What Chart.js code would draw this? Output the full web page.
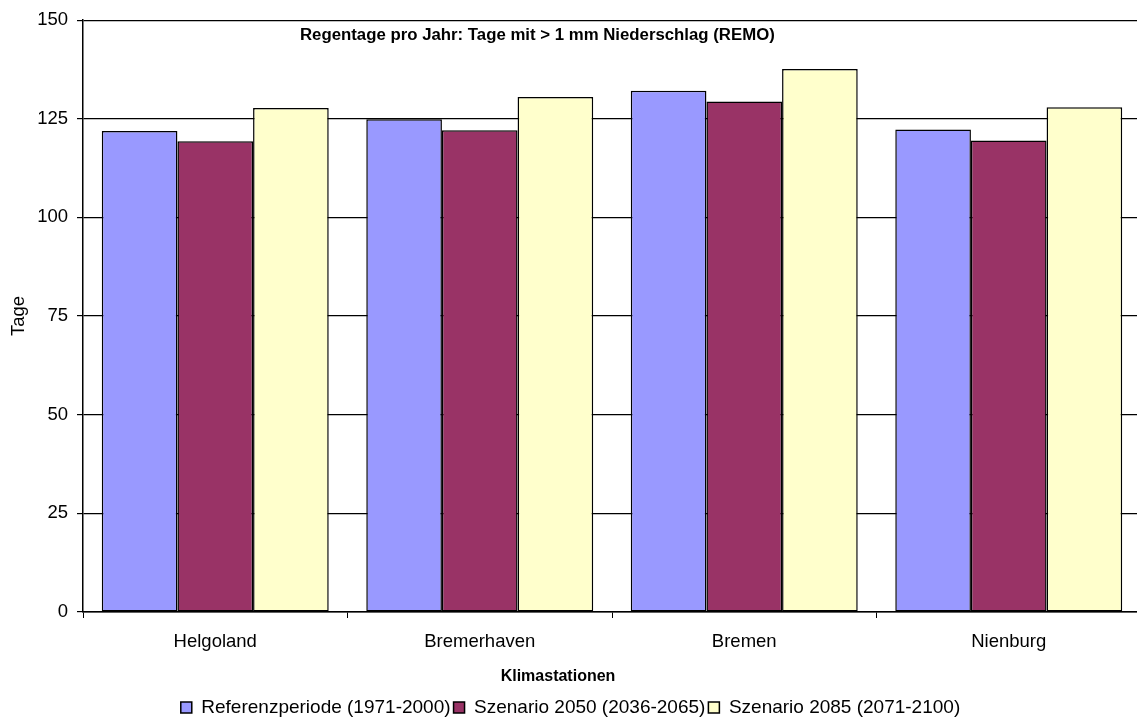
<!DOCTYPE html>
<html>
<head>
<meta charset="utf-8">
<script src="https://cdn.jsdelivr.net/npm/chart.js@4/dist/chart.umd.min.js"></script>
<style>
  html, body { margin: 0; padding: 0; background: #fff; overflow: hidden; }
  #wrap { position: relative; width: 1141px; height: 720px; }
</style>
</head>
<body>
<div id="wrap"><canvas id="chart"></canvas></div>
<script>
(function(){
  'use strict';

  const stations = ['Helgoland', 'Bremerhaven', 'Bremen', 'Nienburg'];
  const referenz = [121.9, 124.9, 132.1, 122.3];   // 1971-2000
  const sz2050   = [119.3, 122.1, 129.4, 119.5];   // 2036-2065
  const sz2085   = [127.7, 130.5, 137.6, 127.9];   // 2071-2100
  const seriesNames = ['Referenzperiode (1971-2000)', 'Szenario 2050 (2036-2065)', 'Szenario 2085 (2071-2100)'];
  const yTicks = [0, 25, 50, 75, 100, 125, 150];

  const chartTitle = 'Regentage pro Jahr: Tage mit > 1 mm Niederschlag (REMO)';
  const xTitle = 'Klimastationen';
  const yTitle = 'Tage';

  const FONT = 'Arial, "Liberation Sans", sans-serif';
  Chart.defaults.font.family = FONT;
  Chart.defaults.color = '#000';

  // chart title sits inside the plot, x-axis title under the labels
  const textPlugin = {
    id: 'texts',
    afterDraw(chart){
      const { ctx, chartArea } = chart;
      ctx.save();
      ctx.fillStyle = '#000';
      ctx.textBaseline = 'middle';
      ctx.font = 'bold 16.8px ' + FONT;
      ctx.textAlign = 'left';
      ctx.fillText(chartTitle, chartArea.left + 217, chartArea.top + 15);
      ctx.font = 'bold 16px ' + FONT;
      ctx.textAlign = 'center';
      ctx.fillText(xTitle, 558, 677);
      ctx.restore();
    }
  };

  const ds = (label, data, color) => ({
    label, data, backgroundColor: color, borderColor: '#000', borderWidth: 1.5,
    borderSkipped: false, barPercentage: 1, categoryPercentage: 0.858
  });

  new Chart(document.getElementById('chart'), {
    type: 'bar',
    data: {
      labels: stations,
      datasets: [
        ds(seriesNames[0], referenz, '#9999FF'),
        ds(seriesNames[1], sz2050, '#993366'),
        ds(seriesNames[2], sz2085, '#FFFFCC')
      ]
    },
    options: {
      responsive: true,
      maintainAspectRatio: false,
      animation: false,
      layout: { padding: { top: 20, left: 0, right: 0, bottom: -7 } },
      plugins: {
        title: { display: false },
        tooltip: { enabled: false },
        legend: {
          position: 'bottom',
          labels: { boxWidth: 11, boxHeight: 11, padding: 3, font: { size: 19 }, color: '#000' }
        }
      },
      scales: {
        x: {
          grid: { offset: true, drawOnChartArea: false, color: '#000', tickLength: 6, lineWidth: 1 },
          border: { color: '#000', width: 1.5 },
          ticks: { font: { size: 18.5 }, padding: 13, maxRotation: 0 },
          afterFit(scale){ scale.height = 83; }
        },
        y: {
          min: 0, max: 150,
          afterBuildTicks(scale){ scale.ticks = yTicks.map(v => ({ value: v })); },
          grid: { color: '#000', tickLength: 6, lineWidth: 1.2 },
          border: { color: '#000', width: 1.5 },
          ticks: { font: { size: 18.5 }, padding: 9 },
          title: { display: true, text: yTitle, font: { size: 18.5 }, padding: { top: 8, bottom: 0 } },
          afterFit(scale){ scale.width = 83; }
        }
      }
    },
    plugins: [textPlugin]
  });
})();
</script>
</body>
</html>
